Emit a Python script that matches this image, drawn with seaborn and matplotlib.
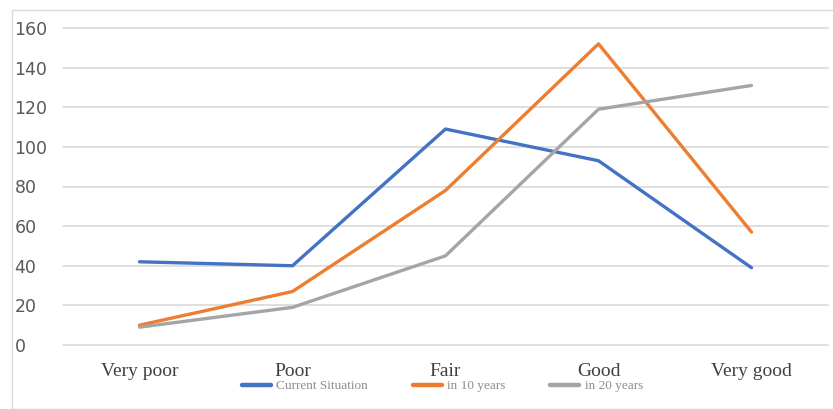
import pandas as pd
import matplotlib.pyplot as plt
import seaborn as sns
from matplotlib.patches import Rectangle

categories = ['Very poor', 'Poor', 'Fair', 'Good', 'Very good']
current = [42, 40, 109, 93, 39]
in_10_years = [10, 27, 78, 152, 57]
in_20_years = [9, 19, 45, 119, 131]
series_names = ['Current Situation', 'in 10 years', 'in 20 years']
colors = ['#4472C4', '#ED7D31', '#A5A5A5']

rows = []
for name, vals in zip(series_names, [current, in_10_years, in_20_years]):
    for cat, v in zip(categories, vals):
        rows.append({'category': cat, 'value': v, 'series': name})
df = pd.DataFrame(rows)

sns.set_style('white')
fig = plt.figure(figsize=(8.33, 4.09), dpi=100)
ax = fig.add_axes([63 / 833, 1 - 345 / 409, 765 / 833, 317 / 409])

sns.lineplot(data=df, x='category', y='value', hue='series', palette=colors,
             hue_order=series_names, sort=False, linewidth=2.4, ax=ax, legend=False)

ax.set_xlim(-0.5, 4.5)
ax.set_ylim(0, 160)
ax.set_yticks(range(0, 161, 20))
ax.grid(axis='y', color='#d9d9d9', linewidth=1.2)
for gl in ax.get_ygridlines():
    gl.set_clip_on(False)
ax.set_axisbelow(True)
for s in ax.spines.values():
    s.set_visible(False)
ax.set_xlabel('')
ax.set_ylabel('')
ax.tick_params(axis='y', length=0, pad=35, labelsize=12.5, labelcolor='#595959')
for lbl in ax.get_yticklabels():
    lbl.set_horizontalalignment('left')
ax.tick_params(axis='x', length=0, pad=13, labelsize=14, labelcolor='#404040')
for lbl in ax.get_xticklabels():
    lbl.set_fontfamily('Liberation Serif')

handles = [plt.Line2D([], [], color=c, linewidth=3.2) for c in colors]
fig.legend(handles, series_names, loc='center', bbox_to_anchor=(0.531, 1 - 386 / 409),
           ncol=3, frameon=False, handlelength=2.2, handletextpad=0.4, columnspacing=3.4,
           prop={'family': 'Liberation Serif', 'size': 9.5}, labelcolor='#8c8c8c')

fig.patches.append(Rectangle((12 / 833, 0), 1, 1 - 10 / 409, transform=fig.transFigure,
                             fill=False, edgecolor='#d9d9d9', linewidth=1))

fig.savefig('out.png', dpi=100)
